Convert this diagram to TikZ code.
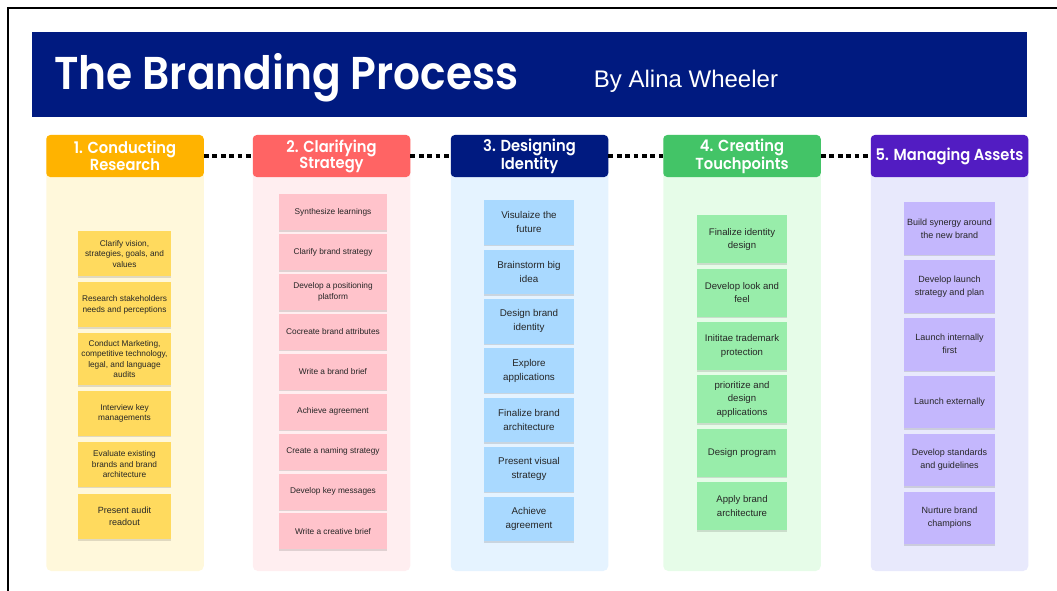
\documentclass[tikz,border=0pt]{standalone}
\usepackage{fontspec}
\setmainfont{Liberation Sans}
\newfontfamily\headfont[FakeStretch=0.92, BoldFont={Poppins SemiBold}]{Poppins}
\usetikzlibrary{positioning, shadows}
\definecolor{navy}{HTML}{001A80}
\definecolor{research}{HTML}{FFB300}
\definecolor{researchbg}{HTML}{FFF8DB}
\definecolor{researchnote}{HTML}{FFDA5E}
\definecolor{strategy}{HTML}{FF6464}
\definecolor{strategybg}{HTML}{FFEEF0}
\definecolor{strategynote}{HTML}{FFC3CB}
\definecolor{identitybg}{HTML}{E5F3FF}
\definecolor{identitynote}{HTML}{A9D9FF}
\definecolor{touch}{HTML}{43C467}
\definecolor{touchbg}{HTML}{E6FCE8}
\definecolor{touchnote}{HTML}{98EDAA}
\definecolor{assets}{HTML}{521CC2}
\definecolor{assetsbg}{HTML}{E8E9FC}
\definecolor{assetsnote}{HTML}{C4B7FD}

\begin{document}
\begin{tikzpicture}[x=1pt, y=-1pt,
      header/.style={
                  rounded corners=4pt, minimum width=157.5, minimum height=42, inner sep=2pt,
                  align=center, text=white, font=\headfont\bfseries\fontsize{16}{16}\selectfont
            },
      panel/.style={rounded corners=5pt, minimum width=157.5, minimum height=436, inner sep=0pt},
      note/.style={
                  inner sep=1pt, align=center, text=black!85,
                  drop shadow={shadow xshift=0pt, shadow yshift=-1.5pt, opacity=0.12, fill=black}
            },
      resnote/.style={note, fill=researchnote, minimum width=93, minimum height=45, font=\fontsize{8.3}{10.6}\selectfont},
      strnote/.style={note, fill=strategynote, minimum width=108, minimum height=36, font=\fontsize{8.3}{10.4}\selectfont},
      idenote/.style={note, fill=identitynote, minimum width=90, minimum height=44.5, font=\fontsize{9.8}{14}\selectfont},
      tpnote/.style={note, fill=touchnote, minimum width=90, minimum height=48, font=\fontsize{9.6}{13.3}\selectfont},
      astnote/.style={note, fill=assetsnote, minimum width=91, minimum height=52.5, font=\fontsize{9}{13}\selectfont},
      dotlink/.style={line width=4.8pt, dash pattern=on 4.8pt off 3.6pt},
]
\useasboundingbox (0,0) rectangle (1057,591);
\draw[line width=1.6pt] (8,591) -- (8,8) -- (1057,8);

% Title banner
\node[fill=navy, minimum width=995, minimum height=85, inner sep=0pt] (banner) at (529.5,74.5) {};
\node[anchor=base west, inner sep=0pt, text=white, font=\headfont\bfseries\fontsize{46}{50}\selectfont] (title) at (54,90) {The Branding Process};
\node[anchor=base, inner sep=0pt, text=white, font=\fontsize{24}{26}\selectfont] (author) at (686,87.5) {By Alina Wheeler};

% Column backgrounds
\node[panel, fill=researchbg] (researchpanel) at (125,353) {};
\node[panel, fill=strategybg] (strategypanel) at (331.5,353) {};
\node[panel, fill=identitybg] (identitypanel) at (529.5,353) {};
\node[panel, fill=touchbg]    (touchpanel)    at (742,353) {};
\node[panel, fill=assetsbg]   (assetspanel)   at (949.5,353) {};

% Step headers
\node[header, fill=research] (research) at (125,156)   {1. Conducting\\Research};
\node[header, fill=strategy] (strategy) at (331.5,156) {2. Clarifying\\Strategy};
\node[header, fill=navy]     (identity) at (529.5,156) {3. Designing\\Identity};
\node[header, fill=touch]    (touch)    at (742,156)   {4. Creating\\Touchpoints};
\node[header, fill=assets]   (assets)   at (949.5,156) {5. Managing Assets};

% 1. Conducting research
\node[resnote, anchor=north] (res1) at (124.5,231) {Clarify vision,\\strategies, goals, and\\values};
\node[resnote, below=5.5pt of res1] (res2) {Research stakeholders\\needs and perceptions};
\node[resnote, below=5.5pt of res2, minimum height=52] (res3) {Conduct Marketing,\\competitive technology,\\legal, and language\\audits};
\node[resnote, below=5.5pt of res3] (res4) {Interview key\\managements};
\node[resnote, below=5.5pt of res4] (res5) {Evaluate existing\\brands and brand\\architecture};
\node[resnote, below=7pt of res5, font=\fontsize{9}{12}\selectfont] (res6) {Present audit\\readout};

% 2. Clarifying strategy
\node[strnote, anchor=north] (str1) at (333,194) {Synthesize learnings};
\node[strnote, below=3.5pt of str1] (str2) {Clarify brand strategy};
\node[strnote, below=3.5pt of str2] (str3) {Develop a positioning\\platform};
\node[strnote, below=3.5pt of str3] (str4) {Cocreate brand attributes};
\node[strnote, below=3.5pt of str4] (str5) {Write a brand brief};
\node[strnote, below=3.5pt of str5] (str6) {Achieve agreement};
\node[strnote, below=3.5pt of str6] (str7) {Create a naming strategy};
\node[strnote, below=3.5pt of str7] (str8) {Develop key messages};
\node[strnote, below=3.5pt of str8] (str9) {Write a creative brief};

% 3. Designing identity
\node[idenote, anchor=north] (ide1) at (529,200) {Visulaize the\\future};
\node[idenote, below=4.5pt of ide1] (ide2) {Brainstorm big\\idea};
\node[idenote, below=4.5pt of ide2] (ide3) {Design brand\\identity};
\node[idenote, below=4.5pt of ide3] (ide4) {Explore\\applications};
\node[idenote, below=4.5pt of ide4] (ide5) {Finalize brand\\architecture};
\node[idenote, below=4.5pt of ide5] (ide6) {Present visual\\strategy};
\node[idenote, below=4.5pt of ide6] (ide7) {Achieve\\agreement};

% 4. Creating touchpoints
\node[tpnote, anchor=north] (tp1) at (742,215) {Finalize identity\\design};
\node[tpnote, below=5pt of tp1] (tp2) {Develop look and\\feel};
\node[tpnote, below=5pt of tp2] (tp3) {Inititae trademark\\protection};
\node[tpnote, below=5pt of tp3] (tp4) {prioritize and\\design\\applications};
\node[tpnote, below=5pt of tp4] (tp5) {Design program};
\node[tpnote, below=5pt of tp5] (tp6) {Apply brand\\architecture};

% 5. Managing assets
\node[astnote, anchor=north] (ast1) at (949.5,202) {Build synergy around\\the new brand};
\node[astnote, below=5pt of ast1] (ast2) {Develop launch\\strategy and plan};
\node[astnote, below=5pt of ast2] (ast3) {Launch internally\\first};
\node[astnote, below=5pt of ast3] (ast4) {Launch externally};
\node[astnote, below=5pt of ast4] (ast5) {Develop standards\\and guidelines};
\node[astnote, below=5pt of ast5] (ast6) {Nurture brand\\champions};

% Step to step
\draw[dotlink] (research) -- (strategy);
\draw[dotlink] (strategy) -- (identity);
\draw[dotlink] (identity) -- (touch);
\draw[dotlink] (touch)    -- (assets);
\end{tikzpicture}
\end{document}
